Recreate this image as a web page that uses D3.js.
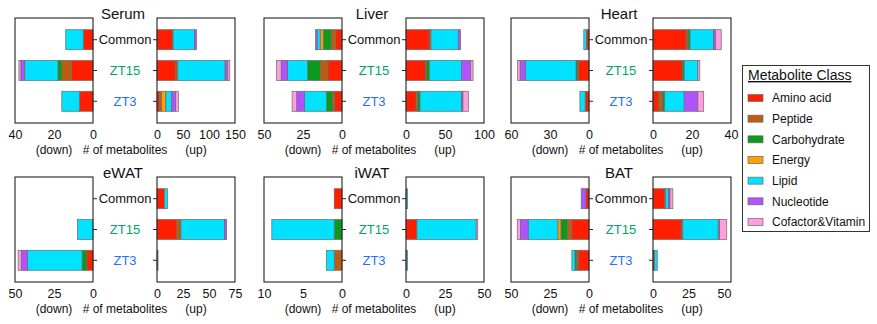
<!DOCTYPE html>
<html>
<head>
<meta charset="utf-8">
<script src="https://cdn.jsdelivr.net/npm/d3@7"></script>
<style>
  body { margin: 0; background: #fff; }
  svg { display: block; font-family: "Liberation Sans", Arial, sans-serif; }
</style>
</head>
<body>
<div id="chart"></div>
<script>
// metabolite classes, stacked from zero outwards in this order
const classes = ["Amino acid", "Peptide", "Carbohydrate", "Energy", "Lipid", "Nucleotide", "Cofactor&Vitamin"];
const classColors = ["#ff1e00", "#bd5c12", "#0b9a1a", "#ff9f00", "#00e2ff", "#b152ff", "#ff9ddf"];

const groups = ["Common", "ZT15", "ZT3"];
const groupColors = ["#111111", "#00a46a", "#1f6fff"];

const tissues = ["Serum", "Liver", "Heart", "eWAT", "iWAT", "BAT"];

// counts per group (Common, ZT15, ZT3), one number per class
const serumDown = [[5, 0, 0, 0, 9, 0, 0], [11, 5, 2, 0, 17, 2, 1], [7, 0, 0, 0, 9, 0, 0]];
const serumUp = [[30, 1, 0, 0, 41, 4, 0], [36, 4, 0, 0, 91, 5, 4], [5, 4, 0, 8, 11, 8, 5]];
const liverDown = [[4, 3, 5, 2, 2, 1, 0], [9, 5, 8, 0, 13, 4, 3], [5, 1, 4, 0, 14, 5, 3]];
const liverUp = [[30, 2, 0, 0, 35, 3, 0], [25, 1, 4, 0, 41, 12, 3], [13, 2, 3, 0, 53, 2, 7]];
const heartDown = [[2, 0, 0, 0, 2, 0, 0], [8, 1, 1, 0, 39, 4, 2], [3, 0, 0, 0, 4, 0, 0]];
const heartUp = [[17, 1, 1, 0, 12, 1, 3], [15, 0, 1, 0, 7, 0, 1], [3, 2, 1, 0, 10, 7, 3]];
const ewatDown = [[0, 0, 0, 0, 0, 0, 0], [0, 0, 0, 0, 10, 0, 0], [4, 0, 3, 0, 35, 4, 2]];
const ewatUp = [[7, 0, 0, 0, 3, 0, 0], [19, 4, 0, 0, 42, 2, 0], [0, 0, 0, 0, 0, 1, 0]];
const iwatDown = [[1, 0, 0, 0, 0, 0, 0], [0, 0, 1, 0, 8, 0, 0], [0, 1, 0, 0, 1, 0, 0]];
const iwatUp = [[0, 0, 0, 0, 1, 0, 0], [7, 0, 0, 0, 38, 0, 1], [0, 0, 0, 0, 1, 0, 0]];
const batDown = [[2, 0, 0, 0, 0, 3, 0], [11, 3, 4, 2, 19, 5, 2], [7, 1, 1, 0, 2, 0, 0]];
const batUp = [[8, 1, 0, 0, 2, 1, 2], [20, 1, 0, 0, 25, 1, 5], [1, 0, 0, 0, 2, 0, 0]];

// axis maxima and tick labels
const downMax = [40, 50, 60, 50, 10, 50];
const upMax = [150, 100, 40, 75, 50, 55];
const downTicks = [[0, 20, 40], [0, 25, 50], [0, 30, 60], [0, 25, 50], [0, 5, 10], [0, 25, 50]];
const upTicks = [[0, 50, 100, 150], [0, 50, 100], [0, 20, 40], [0, 25, 50, 75], [0, 25, 50], [0, 25, 50]];

const downData = [serumDown, liverDown, heartDown, ewatDown, iwatDown, batDown];
const upData = [serumUp, liverUp, heartUp, ewatUp, iwatUp, batUp];

const width = 877;
const height = 324;
const colX = [15, 264, 511];
const rowTop = [18, 177];
const boxW = 78;
const boxH = 105;
const gap = 142;

const svg = d3.select("#chart").append("svg")
  .attr("width", width)
  .attr("height", height);

const stack = d3.stack()
  .keys(d3.range(classes.length))
  .value((d, k) => d.values[k]);

function drawBars(g, rows, x, y) {
  const series = stack(rows.map((values, i) => ({ group: groups[i], values })));
  g.selectAll("g.series")
    .data(series)
    .join("g")
    .attr("class", "series")
    .attr("fill", (s) => classColors[s.key])
    .selectAll("rect")
    .data((s) => s.filter((d) => d[1] > d[0]))
    .join("rect")
    .attr("x", (d) => Math.min(x(d[0]), x(d[1])))
    .attr("width", (d) => Math.abs(x(d[1]) - x(d[0])))
    .attr("y", (d) => y(d.data.group))
    .attr("height", y.bandwidth())
    .attr("stroke", "#6b6b6b")
    .attr("stroke-width", 0.7);
}

function styleAxis(sel) {
  sel.select(".domain").remove();
  sel.selectAll("text")
    .attr("font-size", 12.5)
    .attr("fill", "#111")
    .attr("font-family", "Liberation Sans, Arial, sans-serif");
}

tissues.forEach((name, i) => {
  const x0 = colX[i % 3];
  const top = rowTop[Math.floor(i / 3)];
  const bottom = top + boxH;
  const g = svg.append("g");

  const y = d3.scaleBand()
    .domain(groups)
    .range([top, bottom])
    .paddingInner(0.35)
    .paddingOuter(0.38);

  const xDown = d3.scaleLinear().domain([downMax[i], 0]).range([x0, x0 + boxW]);
  const xUp = d3.scaleLinear().domain([0, upMax[i]]).range([x0 + gap, x0 + gap + boxW]);

  drawBars(g.append("g"), downData[i], xDown, y);
  drawBars(g.append("g"), upData[i], xUp, y);

  // frames
  [x0, x0 + gap].forEach((bx) => {
    g.append("rect")
      .attr("x", bx)
      .attr("y", top)
      .attr("width", boxW)
      .attr("height", boxH)
      .attr("fill", "none")
      .attr("stroke", "#222")
      .attr("stroke-width", 1.1);
  });

  // category ticks on the inner edges
  g.append("g")
    .attr("transform", `translate(${x0 + boxW},0)`)
    .call(d3.axisRight(y).tickSize(4).tickSizeOuter(0).tickFormat(""))
    .call((a) => a.select(".domain").remove())
    .selectAll("line").attr("stroke", "#222");
  g.append("g")
    .attr("transform", `translate(${x0 + gap},0)`)
    .call(d3.axisLeft(y).tickSize(4).tickSizeOuter(0).tickFormat(""))
    .call((a) => a.select(".domain").remove())
    .selectAll("line").attr("stroke", "#222");

  // x axes
  g.append("g")
    .attr("transform", `translate(0,${bottom})`)
    .call(d3.axisBottom(xDown).tickValues(downTicks[i]).tickSize(0).tickPadding(7))
    .call(styleAxis);
  g.append("g")
    .attr("transform", `translate(0,${bottom})`)
    .call(d3.axisBottom(xUp).tickValues(upTicks[i]).tickSize(0).tickPadding(7))
    .call(styleAxis);

  const mid = x0 + (boxW + gap) / 2;

  // group labels
  g.selectAll("text.group")
    .data(groups)
    .join("text")
    .attr("class", "group")
    .attr("x", mid)
    .attr("y", (d) => y(d) + y.bandwidth() / 2)
    .attr("dy", "0.36em")
    .attr("text-anchor", "middle")
    .attr("font-size", 13)
    .attr("fill", (d, j) => groupColors[j])
    .text((d) => d);

  // title
  g.append("text")
    .attr("x", mid - 2)
    .attr("y", top + 1)
    .attr("text-anchor", "middle")
    .attr("font-size", 15)
    .attr("fill", "#111")
    .text(name);

  // axis caption
  const capY = bottom + 31;
  g.append("text")
    .attr("x", x0 + boxW / 2)
    .attr("y", capY)
    .attr("text-anchor", "middle")
    .attr("font-size", 12)
    .attr("fill", "#111")
    .text("(down)");
  g.append("text")
    .attr("x", mid)
    .attr("y", capY)
    .attr("text-anchor", "middle")
    .attr("font-size", 12)
    .attr("fill", "#111")
    .text("# of metabolites");
  g.append("text")
    .attr("x", x0 + gap + boxW / 2)
    .attr("y", capY)
    .attr("text-anchor", "middle")
    .attr("font-size", 12)
    .attr("fill", "#111")
    .text("(up)");
});

// legend
const legend = svg.append("g");
legend.append("rect")
  .attr("x", 742.5)
  .attr("y", 65.5)
  .attr("width", 127)
  .attr("height", 166)
  .attr("fill", "#fff")
  .attr("stroke", "#333")
  .attr("stroke-width", 1);

legend.append("text")
  .attr("x", 748)
  .attr("y", 80)
  .attr("font-size", 14)
  .attr("fill", "#111")
  .attr("text-decoration", "underline")
  .text("Metabolite Class");

const ly = d3.scalePoint().domain(classes).range([98, 222]);

const items = legend.selectAll("g.item")
  .data(classes)
  .join("g")
  .attr("class", "item")
  .attr("transform", (d) => `translate(748,${ly(d)})`);

items.append("rect")
  .attr("x", 0)
  .attr("y", -3.5)
  .attr("width", 15)
  .attr("height", 7)
  .attr("fill", (d, j) => classColors[j])
  .attr("stroke", "#6b6b6b")
  .attr("stroke-width", 0.7);

items.append("text")
  .attr("x", 24)
  .attr("dy", "0.36em")
  .attr("font-size", 12)
  .attr("fill", "#111")
  .text((d) => d);
</script>
</body>
</html>
